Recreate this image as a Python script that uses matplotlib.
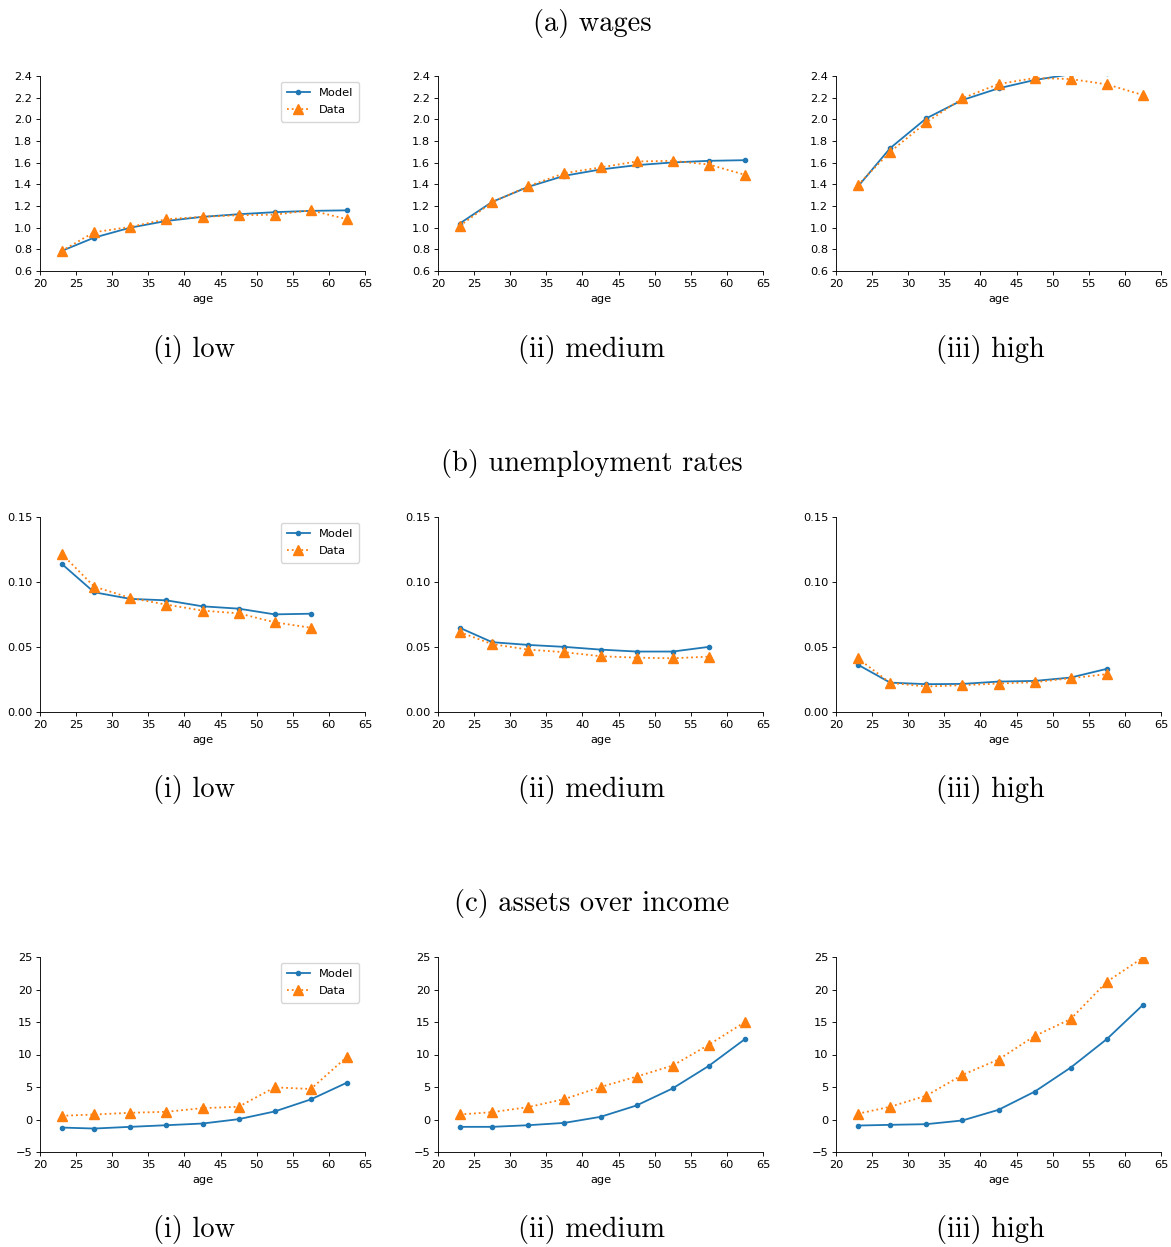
import numpy as np
import matplotlib
matplotlib.use("Agg")
import matplotlib.pyplot as plt

# age groups (midpoints)
ages = [23, 27.5, 32.5, 37.5, 42.5, 47.5, 52.5, 57.5, 62.5]
ages_u = ages[:8]

# (a) wages
wage_model_low = [0.785, 0.908, 1.00, 1.062, 1.10, 1.124, 1.143, 1.155, 1.16]
wage_data_low = [0.785, 0.958, 1.007, 1.078, 1.10, 1.115, 1.12, 1.16, 1.078]
wage_model_med = [1.038, 1.238, 1.377, 1.479, 1.537, 1.577, 1.602, 1.617, 1.623]
wage_data_med = [1.016, 1.235, 1.383, 1.503, 1.556, 1.611, 1.617, 1.583, 1.488]
wage_model_high = [1.377, 1.734, 2.009, 2.178, 2.286, 2.363, 2.416, 2.43, 2.44]
wage_data_high = [1.392, 1.70, 1.972, 2.194, 2.326, 2.381, 2.372, 2.323, 2.224]

# (b) unemployment rates
unemp_model_low = [0.114, 0.0921, 0.087, 0.0859, 0.0813, 0.0795, 0.0751, 0.0756]
unemp_data_low = [0.1217, 0.0965, 0.0877, 0.0826, 0.078, 0.0759, 0.069, 0.0648]
unemp_model_med = [0.0648, 0.0537, 0.0516, 0.0501, 0.048, 0.0465, 0.0465, 0.0501]
unemp_data_med = [0.0615, 0.0522, 0.048, 0.046, 0.0429, 0.0418, 0.0413, 0.0426]
unemp_model_high = [0.0365, 0.0226, 0.0214, 0.0216, 0.0234, 0.0239, 0.0265, 0.0332]
unemp_data_high = [0.0414, 0.0224, 0.0196, 0.0206, 0.0219, 0.0229, 0.026, 0.0291]

# (c) assets over income
assets_model_low = [-1.24, -1.39, -1.13, -0.88, -0.62, 0.05, 1.24, 3.09, 5.67]
assets_data_low = [0.57, 0.77, 1.03, 1.19, 1.75, 1.96, 4.95, 4.69, 9.64]
assets_model_med = [-1.13, -1.13, -0.88, -0.52, 0.41, 2.16, 4.79, 8.25, 12.37]
assets_data_med = [0.77, 1.13, 1.91, 3.14, 5.0, 6.6, 8.3, 11.5, 15.0]
assets_model_high = [-0.93, -0.82, -0.72, -0.15, 1.49, 4.28, 7.99, 12.37, 17.63]
assets_data_high = [0.88, 1.96, 3.66, 6.86, 9.23, 12.84, 15.46, 21.19, 24.9]

section_titles = ["(a) wages", "(b) unemployment rates", "(c) assets over income"]
sub_titles = ["(i) low", "(ii) medium", "(iii) high"]

rows = [
    (ages, [(wage_model_low, wage_data_low), (wage_model_med, wage_data_med),
            (wage_model_high, wage_data_high)],
     (0.6, 2.4), np.arange(0.6, 2.41, 0.2), "{:.1f}"),
    (ages_u, [(unemp_model_low, unemp_data_low), (unemp_model_med, unemp_data_med),
              (unemp_model_high, unemp_data_high)],
     (0.0, 0.15), np.arange(0.0, 0.151, 0.05), "{:.2f}"),
    (ages, [(assets_model_low, assets_data_low), (assets_model_med, assets_data_med),
            (assets_model_high, assets_data_high)],
     (-5, 25), np.arange(-5, 26, 5), "{:.0f}"),
]

W, H = 1171, 1247
s = 0.8  # scale of the subfigures
plt.rcParams["font.size"] = 8.2
plt.rcParams["axes.linewidth"] = 0.8 * s
plt.rcParams["xtick.major.width"] = 0.8 * s
plt.rcParams["ytick.major.width"] = 0.8 * s
plt.rcParams["xtick.major.size"] = 3.5 * s
plt.rcParams["ytick.major.size"] = 3.5 * s
plt.rcParams["xtick.major.pad"] = 3.5 * s
plt.rcParams["ytick.major.pad"] = 3.5 * s

fig = plt.figure(figsize=(W / 100, H / 100), dpi=100)

col_left = [40, 438, 836]
ax_w = 325
row_top = [76, 517, 957]
ax_h = 195
section_y = [23, 464, 904]
sub_y = [349, 790, 1230]
col_center = [194, 592, 990]

for r, (x, pairs, ylim, yticks, fmt) in enumerate(rows):
    fig.text(592 / W, 1 - section_y[r] / H, section_titles[r], family="cmr10",
             fontsize=20.5, ha="center", va="center")
    for c, (model, data) in enumerate(pairs):
        ax = fig.add_axes([col_left[c] / W, 1 - (row_top[r] + ax_h) / H, ax_w / W, ax_h / H])
        ax.plot(x, model, "-", marker=".", color="C0", lw=1.3, ms=6, label="Model")
        ax.plot(x, data, ":", marker="^", color="C1", lw=1.3, ms=7, label="Data")
        ax.set_xlim(20, 65)
        ax.set_xticks(range(20, 66, 5))
        ax.set_ylim(*ylim)
        ax.set_yticks(yticks)
        ax.set_yticklabels([fmt.format(v).replace("-", "\u2212") for v in yticks])
        ax.set_xlabel("age", labelpad=4)
        ax.spines["top"].set_visible(False)
        ax.spines["right"].set_visible(False)
        if c == 0:
            ax.legend(loc="upper right", labelspacing=0.65, borderpad=0.55,
                      bbox_to_anchor=(1.0, 1.0))
        fig.text(col_center[c] / W, 1 - sub_y[r] / H, sub_titles[c], family="cmr10",
                 fontsize=20.5, ha="center", va="center")

fig.savefig("out.png", dpi=100)
